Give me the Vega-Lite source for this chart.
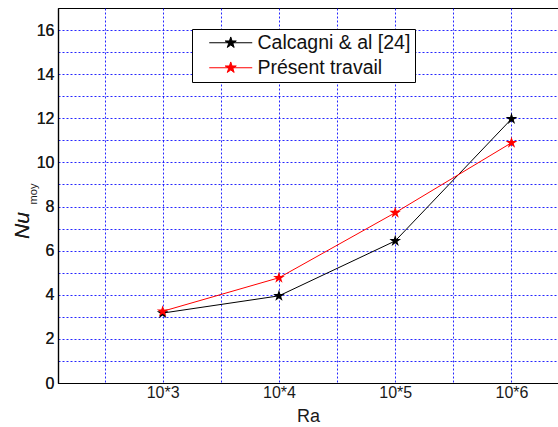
{
  "$schema": "https://vega.github.io/schema/vega-lite/v6.json",
  "width": 500,
  "height": 375,
  "autosize": {"type": "none"},
  "padding": {"left": 58, "top": 8, "right": 0, "bottom": 44},
  "background": "white",
  "config": {
    "view": {"stroke": "black", "strokeWidth": 1},
    "font": "Liberation Sans",
    "axis": {
      "labelFont": "Liberation Sans",
      "titleFont": "Liberation Sans",
      "labelColor": "#1a1a1a",
      "titleColor": "#1a1a1a",
      "gridColor": "#0000ff",
      "gridDash": [2, 2],
      "gridOpacity": 0.85,
      "gridWidth": 1,
      "domainColor": "black",
      "domainWidth": 1.2,
      "ticks": false
    }
  },
  "data": {
    "values": [
      {"ra": 3, "nu": 3.17, "series": "Calcagni & al [24]"},
      {"ra": 4, "nu": 3.95, "series": "Calcagni & al [24]"},
      {"ra": 5, "nu": 6.44, "series": "Calcagni & al [24]"},
      {"ra": 6, "nu": 11.97, "series": "Calcagni & al [24]"},
      {"ra": 3, "nu": 3.25, "series": "Présent travail"},
      {"ra": 4, "nu": 4.77, "series": "Présent travail"},
      {"ra": 5, "nu": 7.72, "series": "Présent travail"},
      {"ra": 6, "nu": 10.89, "series": "Présent travail"}
    ]
  },
  "encoding": {
    "x": {
      "field": "ra",
      "type": "quantitative",
      "scale": {"domain": [2.1, 6.4], "nice": false, "zero": false},
      "axis": {
        "title": "Ra",
        "titleFontSize": 18,
        "titleFontWeight": "normal",
        "titleY": 33,
        "titleBaseline": "middle",
        "values": [2.5, 3, 3.5, 4, 4.5, 5, 5.5, 6],
        "labelExpr": "datum.value % 1 == 0 ? '10*' + datum.value : ''",
        "labelFontSize": 16,
        "labelPadding": 1,
        "labelOverlap": false
      }
    },
    "y": {
      "field": "nu",
      "type": "quantitative",
      "scale": {"domain": [0, 17], "nice": false},
      "axis": {
        "orient": "left",
        "title": "Nu",
        "titleFontSize": 21,
        "titleFontStyle": "italic",
        "titleFontWeight": "normal",
        "titleX": -35.5,
        "titleY": 217,
        "titleAlign": "center",
        "titleBaseline": "middle",
        "values": [0, 1, 2, 3, 4, 5, 6, 7, 8, 9, 10, 11, 12, 13, 14, 15, 16],
        "labelExpr": "datum.value % 2 == 0 ? datum.value : ''",
        "labelFontSize": 16,
        "labelPadding": 4,
        "labelOverlap": false
      }
    },
    "color": {
      "field": "series",
      "type": "nominal",
      "sort": ["Calcagni & al [24]", "Présent travail"],
      "scale": {"domain": ["Calcagni & al [24]", "Présent travail"], "range": ["black", "red"]},
      "legend": {
        "title": null,
        "orient": "none",
        "legendX": 134,
        "legendY": 21,
        "direction": "vertical",
        "fillColor": "white",
        "strokeColor": "black",
        "padding": 4,
        "rowPadding": 4,
        "labelFontSize": 19.5,
        "labelColor": "#111",
        "labelFont": "Liberation Sans",
        "symbolType": "M-3.7,0L3.7,0M0,-1L0.225,-0.309L0.951,-0.309L0.363,0.118L0.588,0.809L0,0.382L-0.588,0.809L-0.363,0.118L-0.951,-0.309L-0.225,-0.309Z",
        "symbolSize": 135,
        "symbolOffset": 25,
        "labelOffset": 17,
        "symbolStrokeWidth": 1,
        "encode": {
          "symbols": {
            "update": {
              "fill": {"scale": "color", "field": "value"},
              "stroke": {"scale": "color", "field": "value"},
              "strokeWidth": {"value": 1}
            }
          }
        }
      }
    }
  },
  "layer": [
    {"mark": {"type": "line", "strokeWidth": 1}},
    {
      "mark": {
        "type": "point",
        "filled": true,
        "opacity": 1,
        "size": 150,
        "shape": "M0,-1L0.225,-0.309L0.951,-0.309L0.363,0.118L0.588,0.809L0,0.382L-0.588,0.809L-0.363,0.118L-0.951,-0.309L-0.225,-0.309Z"
      }
    },
    {
      "mark": {"type": "point", "opacity": 0},
      "encoding": {
        "y": {
          "field": "nu",
          "type": "quantitative",
          "axis": {
            "orient": "left",
            "title": "moy",
            "titleFontSize": 11,
            "titleFontWeight": "normal",
            "titleX": -24.5,
            "titleY": 185.5,
            "titleAlign": "center",
            "titleBaseline": "middle",
            "labels": false,
            "domain": false,
            "grid": false,
            "ticks": false
          }
        },
        "color": {"value": "black"}
      }
    }
  ],
  "resolve": {"axis": {"y": "independent"}}
}
